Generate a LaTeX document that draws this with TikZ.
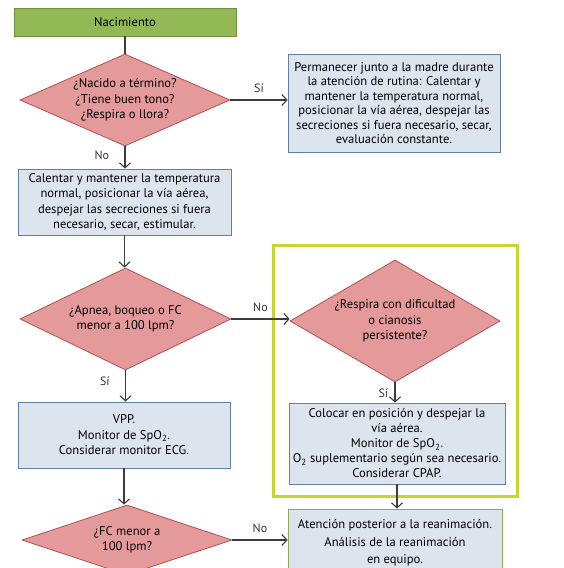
\documentclass[tikz,border=0pt]{standalone}
\usepackage{fontspec}
\setmainfont{PT Sans}
\usetikzlibrary{shapes.geometric,arrows.meta}
\definecolor{nacgreen}{HTML}{92B955}
\definecolor{nacline}{HTML}{6F8E3E}
\definecolor{qfill}{HTML}{E49A9B}
\definecolor{qline}{HTML}{B5504E}
\definecolor{boxfill}{HTML}{DCE4EE}
\definecolor{boxline}{HTML}{5F7FA6}
\definecolor{endline}{HTML}{8DA85A}
\definecolor{frameyel}{HTML}{C6D630}
\definecolor{arrowgray}{HTML}{3C3C3C}
\begin{document}
\begin{tikzpicture}[x=1pt, y=-1pt,
    txt/.style={align=center, text=black, font=\fontsize{12.6}{15.5}\selectfont},
    start/.style={txt, draw=nacline, fill=nacgreen, line width=0.8pt, minimum width=222pt, minimum height=28pt},
    actbox/.style={txt, draw=boxline, fill=boxfill, line width=0.9pt, inner sep=2pt},
    decision/.style={diamond, draw=qline, fill=qfill, line width=0.8pt, inner sep=0pt},
    arr/.style={draw=arrowgray, line width=1.1pt, -{Straight Barb[length=5pt, width=11pt]}},
    lbl/.style={text=black!80, font=\fontsize{12}{13}\selectfont}]
  \useasboundingbox[fill=white] (0,0) rectangle (564,568);

  \draw[frameyel, line width=3pt] (273,245) rectangle (517,496);

  \node[start] (nac) at (125,22) {Nacimiento};

  \node[decision, minimum width=210pt, minimum height=92pt] (q1) at (125,100) {};
  \node[txt] at (q1) {¿Nacido a término?\\¿Tiene buen tono?\\¿Respira o llora?};

  \node[actbox, minimum width=212pt, minimum height=98pt, font=\fontsize{12.6}{14.5}\selectfont] (rutina) at (394,103)
    {Permanecer junto a la madre durante\\la atención de rutina: Calentar y\\mantener la temperatura normal,\\posicionar la vía aérea, despejar las\\secreciones si fuera necesario, secar,\\evaluación constante.};

  \node[actbox, minimum width=213pt, minimum height=66pt] (calentar) at (124.5,202)
    {Calentar y mantener la temperatura\\normal, posicionar la vía aérea,\\despejar las secreciones si fuera\\necesario, secar, estimular.};

  \node[decision, minimum width=211pt, minimum height=102pt] (q2) at (125.5,319) {};
  \node[txt] at (q2) {¿Apnea, boqueo o FC\\menor a 100 lpm?};

  \node[decision, minimum width=210pt, minimum height=122pt] (q3) at (395,321) {};
  \node[txt] at (q3) {¿Respira con dificultad\\o cianosis\\persistente?};

  \node[actbox, minimum width=212pt, minimum height=66pt] (vpp) at (124,435)
    {VPP.\\Monitor de SpO\textsubscript{2}.\\Considerar monitor ECG.};

  \node[actbox, minimum width=216pt, minimum height=81pt, font=\fontsize{12.6}{15}\selectfont] (colocar) at (397,443.5)
    {Colocar en posición y despejar la\\vía aérea.\\Monitor de SpO\textsubscript{2}.\\O\textsubscript{2} suplementario según sea necesario.\\Considerar CPAP.};

  \node[decision, minimum width=210pt, minimum height=70pt] (q4) at (127,540) {};
  \node[txt] at (q4) {¿FC menor a\\100 lpm?};

  \node[actbox, draw=endline, minimum width=214pt, minimum height=68pt, font=\fontsize{12.6}{17.5}\selectfont] (atencion) at (395,543)
    {Atención posterior a la reanimación.\\Análisis de la reanimación\\en equipo.};

  \draw[draw=arrowgray, line width=1.1pt] (nac.south) -- (nac.south |- q1.north);
  \draw[arr] (q1.east) -- node[lbl, above=3pt] {Sí} (q1.east -| rutina.west);
  \draw[arr] (q1.south) -- node[lbl, left=12pt, pos=0.4] {No} (q1.south |- calentar.north);
  \draw[arr] (calentar.south) -- (calentar.south |- q2.north);
  \draw[arr] (q2.east) -- node[lbl, above=3pt] {No} (q2.east -| q3.west);
  \draw[arr] (q2.south) -- node[lbl, left=12pt, pos=0.35] {Sí} (q2.south |- vpp.north);
  \draw[arr] (q3.south) -- node[lbl, left=3pt, pos=0.55] {Sí} (q3.south |- colocar.north);
  \draw[arr] (vpp.south) -- (vpp.south |- q4.north);
  \draw[arr] (colocar.south) -- (colocar.south |- atencion.north);
  \draw[arr] (q4.east) -- node[lbl, above=3pt] {No} (q4.east -| atencion.west);
\end{tikzpicture}
\end{document}
